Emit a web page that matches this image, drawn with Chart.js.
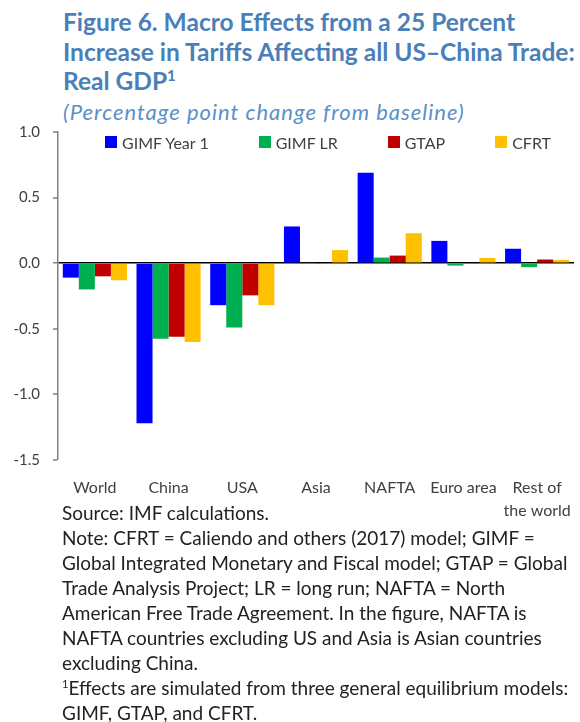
<!DOCTYPE html>
<html>
<head>
<meta charset="utf-8">
<script src="https://cdn.jsdelivr.net/npm/chart.js@4.4.1/dist/chart.umd.min.js"></script>
<style>
  body { margin: 0; background: #fff; width: 580px; height: 722px; overflow: hidden; font-family: Lato, "Open Sans", sans-serif; }
  #title { position: absolute; left: 63px; top: 7px; color: #4a7fb8; font-weight: bold; font-size: 24.5px; line-height: 29.5px; white-space: nowrap; }
  #title sup { font-size: 15px; line-height: 0; }
  #subtitle { position: absolute; left: 63px; top: 98px; color: #5b8fc7; font-style: italic; font-size: 22px; letter-spacing: 1px; white-space: nowrap; }
  #wrap { position: absolute; left: 0; top: 110px; width: 580px; height: 408px; }
  #legend { position: absolute; left: 105px; top: 131px; height: 22px; display: flex; align-items: center; gap: 50px; color: #404040; font-size: 16px; }
  #legend span.item { display: flex; align-items: center; }
  #legend span.box { width: 12px; height: 12px; margin-right: 5px; display: inline-block; }
  #notes { position: absolute; left: 62px; top: 500px; width: 518px; color: #222; font-size: 19px; line-height: 25px; white-space: nowrap; }
  #notes sup { font-size: 11px; line-height: 0; }
</style>
</head>
<body>
<div id="title">Figure 6. Macro Effects from a 25 Percent<br>Increase in Tariffs Affecting all US–China Trade:<br>Real GDP<sup>1</sup></div>
<div id="subtitle">(Percentage point change from baseline)</div>
<div id="wrap"><canvas id="myChart"></canvas></div>
<div id="legend"></div>
<div id="notes">
  Source: IMF calculations.<br>
  Note: CFRT = Caliendo and others (2017) model; GIMF =<br>
  Global Integrated Monetary and Fiscal model; GTAP = Global<br>
  Trade Analysis Project; LR = long run; NAFTA = North<br>
  American Free Trade Agreement. In the figure, NAFTA is<br>
  NAFTA countries excluding US and Asia is Asian countries<br>
  excluding China.<br>
  <sup>1</sup>Effects are simulated from three general equilibrium models:<br>
  GIMF, GTAP, and CFRT.
</div>
<script>
// Chart data
const regions = ['World', 'China', 'USA', 'Asia', 'NAFTA', 'Euro area', ['Rest of', 'the world']];
const gimfYear1 = [-0.11, -1.22, -0.32, 0.28, 0.69, 0.17, 0.11];
const gimfLR = [-0.20, -0.575, -0.49, 0.005, 0.043, -0.018, -0.03];
const gtap = [-0.10, -0.56, -0.245, -0.005, 0.058, -0.005, 0.028];
const cfrt = [-0.13, -0.60, -0.32, 0.10, 0.228, 0.04, 0.025];
const yTicks = [1.0, 0.5, 0.0, -0.5, -1.0, -1.5];

const textColor = '#404040';
const axisColor = '#808080';

function makeSet(label, data, color) {
    return {
        label: label,
        data: data,
        backgroundColor: color,
        borderWidth: 0,
        categoryPercentage: 0.87,
        barPercentage: 1.0
    };
}

const ctx = document.getElementById('myChart').getContext('2d');
const chart = new Chart(ctx, {
    type: 'bar',
    data: {
        labels: regions,
        datasets: [
            makeSet('GIMF Year 1', gimfYear1, '#0000ff'),
            makeSet('GIMF LR', gimfLR, '#00b050'),
            makeSet('GTAP', gtap, '#c00000'),
            makeSet('CFRT', cfrt, '#ffc000')
        ]
    },
    options: {
        responsive: true,
        maintainAspectRatio: false,
        animation: false,
        layout: { padding: { top: 6, right: 3, left: 0, bottom: 0 } },
        plugins: {
            legend: { display: false },
            tooltip: { enabled: false }
        },
        scales: {
            x: {
                grid: { display: false },
                border: { display: false },
                ticks: {
                    color: textColor,
                    padding: 9,
                    maxRotation: 0,
                    autoSkip: false,
                    font: { family: 'Lato', size: 16, lineHeight: 1.4 }
                },
                afterFit: scale => { scale.height = 58; }
            },
            y: {
                min: -1.5,
                max: 1.0,
                afterBuildTicks: scale => { scale.ticks = yTicks.map(v => ({ value: v })); },
                afterFit: scale => { scale.width = 58; },
                border: { display: true, color: axisColor, width: 1.5 },
                grid: {
                    drawOnChartArea: true,
                    drawTicks: true,
                    tickLength: 5,
                    tickColor: axisColor,
                    tickWidth: 1.5,
                    lineWidth: c => (c.tick && c.tick.value === 0 ? 1.5 : 0),
                    color: c => (c.tick && c.tick.value === 0 ? '#000000' : 'rgba(0,0,0,0)')
                },
                ticks: {
                    color: textColor,
                    padding: 13,
                    font: { family: 'Lato', size: 15 },
                    callback: v => v.toFixed(1)
                }
            }
        }
    }
});

// legend built from the chart's datasets
const legendEl = document.getElementById('legend');
chart.data.datasets.forEach(ds => {
    const item = document.createElement('span');
    item.className = 'item';
    const box = document.createElement('span');
    box.className = 'box';
    box.style.background = ds.backgroundColor;
    item.appendChild(box);
    item.appendChild(document.createTextNode(ds.label));
    legendEl.appendChild(item);
});
</script>
</body>
</html>
